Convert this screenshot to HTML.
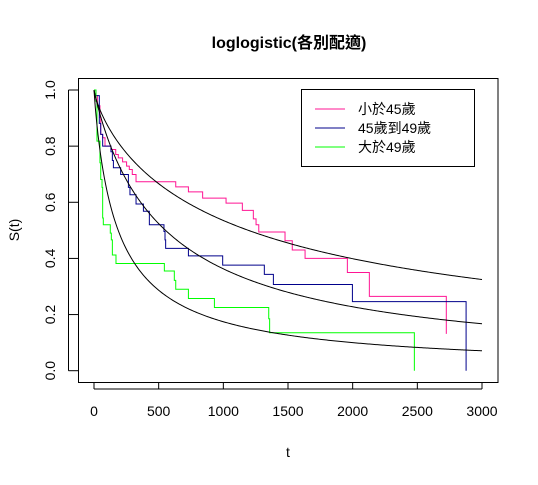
<!DOCTYPE html>
<html><head><meta charset="utf-8"><style>
body{margin:0;background:#fff;}
svg text{font-family:"Liberation Sans","Noto Sans CJK TC",sans-serif;}
</style></head><body>
<svg id="chart" width="538" height="480" xmlns="http://www.w3.org/2000/svg">
<rect width="538" height="480" fill="#fff"/>
<text x="289" y="48" text-anchor="middle" font-size="16" font-weight="bold">loglogistic(各別配適)</text>
<text x="288" y="457" text-anchor="middle" font-size="14">t</text>
<text transform="translate(19,230) rotate(-90)" text-anchor="middle" font-size="14">S(t)</text>
<rect x="78.5" y="78.5" width="419.5" height="304" fill="none" stroke="#000"/>
<g id="axes"></g>
<g id="series"></g>
<g>
<rect x="301.5" y="89.5" width="173" height="77" fill="#fff" stroke="#000"/>
<line x1="315" y1="109" x2="345" y2="109" stroke="#ff1493"/>
<text x="358" y="114" font-size="14">小於45歲</text>
<line x1="315" y1="128" x2="345" y2="128" stroke="#00008b"/>
<text x="358" y="133" font-size="14">45歲到49歲</text>
<line x1="315" y1="147" x2="345" y2="147" stroke="#00ff00"/>
<text x="358" y="152" font-size="14">大於49歲</text>
</g>
</svg>
<script>
const xTicks=[0,500,1000,1500,2000,2500,3000];
const yTicks=[0,0.2,0.4,0.6,0.8,1.0];
const pinkT=[0,15,26,46,52,67,85,131,168,188,221,252,273,296,325,632,730,840,1021,1147,1232,1253,1274,1477,1533,1632,1959,2129,2724];
const pinkS=[1,0.98,0.944,0.902,0.842,0.83,0.8,0.788,0.77,0.758,0.744,0.729,0.717,0.699,0.673,0.655,0.637,0.615,0.597,0.571,0.541,0.52,0.494,0.463,0.43,0.4,0.35,0.265,0.131];
const navyT=[0,15,41,52,67,131,142,150,206,266,278,325,382,428,541,549,554,730,995,1317,1387,1998,2877];
const navyS=[1,0.98,0.881,0.842,0.8,0.78,0.749,0.723,0.699,0.653,0.627,0.594,0.568,0.52,0.496,0.466,0.436,0.409,0.376,0.343,0.307,0.246,0];
const greenT=[0,15,23,46,52,62,67,72,126,134,142,170,544,621,632,730,931,1351,1358,2477];
const greenS=[1,0.96,0.818,0.741,0.681,0.653,0.544,0.52,0.49,0.466,0.412,0.382,0.355,0.322,0.29,0.257,0.225,0.185,0.135,0];
const fitAlpha=[1194,553,187];
const fitBeta=[0.794,0.95,0.927];

const X=t=>94+t*388/3000;
const Y=s=>370.7-s*280.7;
const NS='http://www.w3.org/2000/svg';
const axes=document.getElementById('axes'), ser=document.getElementById('series');
function mk(tag,attrs,parent){const e=document.createElementNS(NS,tag);for(const k in attrs)e.setAttribute(k,attrs[k]);parent.appendChild(e);return e;}
mk('line',{x1:X(0),y1:389,x2:X(3000),y2:389,stroke:'#000'},axes);
xTicks.forEach(v=>{
 const l=mk('line',{x1:X(v),y1:382.5,x2:X(v),y2:389,stroke:'#000'},axes);
 
 
 const t=mk('text',{x:X(v),y:416,'text-anchor':'middle','font-size':14},axes);t.textContent=v;
 
 
});
mk('line',{x1:68.5,y1:Y(0),x2:68.5,y2:Y(1),stroke:'#000'},axes);
yTicks.forEach(v=>{
 const l=mk('line',{x1:68.5,y1:Y(v),x2:78.5,y2:Y(v),stroke:'#000'},axes);
 
 
 const t=mk('text',{transform:`translate(55,${Y(v)}) rotate(-90)`,'text-anchor':'middle','font-size':14},axes);t.textContent=v.toFixed(1);
 
 
});
function steps(T,S,color,name){
 let d=`M${X(T[0])},${Y(S[0])}`;
 for(let i=1;i<T.length;i++){d+=`H${X(T[i])}V${Y(S[i])}`;}
 const p=mk('path',{d:d,fill:'none',stroke:color,'stroke-width':1},ser);
 
 
}
steps(pinkT,pinkS,'#ff1493','km-under45');
steps(navyT,navyS,'#00008b','km-45to49');
steps(greenT,greenS,'#00ff00','km-over49');
fitAlpha.forEach((a,i)=>{
 let d='';
 for(let t=0;t<=3000;t+=10){const s=1/(1+Math.pow(t/a,fitBeta[i]));d+=(t?'L':'M')+X(t)+','+Y(s);}
 const p=mk('path',{d:d,fill:'none',stroke:'#000','stroke-width':1},ser);
 
 
});
</script>
</body></html>
